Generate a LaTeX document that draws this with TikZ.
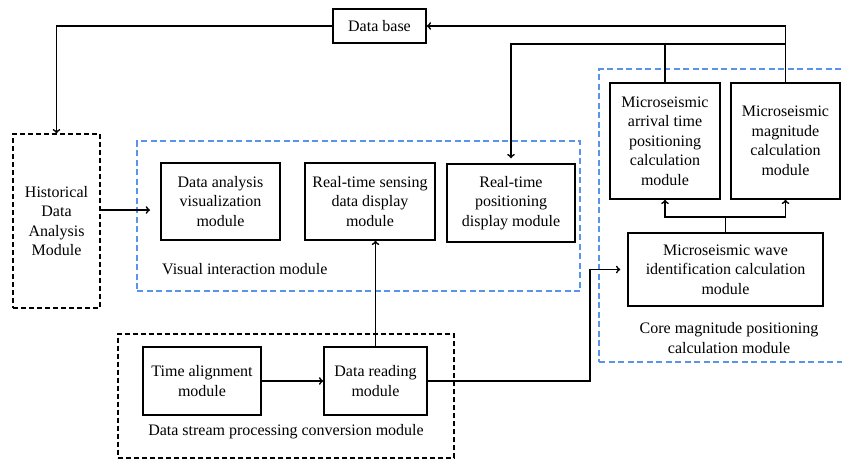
\documentclass[tikz,border=0pt]{standalone}
\usepackage{fontspec}
\setmainfont{Liberation Serif}
\usepackage{xcolor}
\usetikzlibrary{arrows,shapes}
\definecolor{frameblue}{RGB}{88,148,232}

\begin{document}
\begin{tikzpicture}[x=1pt,y=-1pt,
	every node/.style={font=\fontsize{16}{19.5}\selectfont, align=center, inner sep=0pt},
	modbox/.style={draw=black, line width=1.5pt, fill=white},
	grpbox/.style={draw=black, line width=1.3pt, dash pattern=on 5pt off 3pt},
	bluebox/.style={draw=frameblue, line width=1.3pt, dash pattern=on 6pt off 3.5pt},
	connline/.style={draw=black, line width=1.7pt, fill=none}]
	\useasboundingbox (0, 0) rectangle (842, 461);

	\node [bluebox, minimum width=443, minimum height=150] (visframe) at (358.5, 216) {};
	\node [bluebox, minimum width=250, minimum height=293] (coreframe) at (724, 215.5) {};
	\node [grpbox, minimum width=336, minimum height=124] (dsframe) at (286, 396) {};

	\node [modbox, minimum width=93, minimum height=34] (db) at (379.5, 26) {Data base};
	\node [grpbox, minimum width=87, minimum height=174] (hist) at (56.5, 221) {Historical\\Data\\Analysis\\Module};

	\node [modbox, minimum width=119, minimum height=77] (dav) at (220.5, 201.5) {Data analysis\\visualization\\module};
	\node [modbox, minimum width=130, minimum height=77] (rsd) at (370, 201.5) {Real-time sensing\\data display\\module};
	\node [modbox, minimum width=128, minimum height=78] (rpd) at (511, 203) {Real-time\\positioning\\display module};
	\node [anchor=west] (vislabel) at (162, 269) {Visual interaction module};

	\node [modbox, minimum width=110, minimum height=116] (mat) at (665, 141) {Microseismic\\arrival time\\positioning\\calculation\\module};
	\node [modbox, minimum width=109, minimum height=116] (mmc) at (785.5, 141) {Microseismic\\magnitude\\calculation\\module};
	\node [modbox, minimum width=195, minimum height=73] (mwi) at (725.5, 269.5) {Microseismic wave\\identification calculation\\module};
	\node (corelabel) at (729, 338) {Core magnitude positioning\\calculation module};

	\node [modbox, minimum width=118, minimum height=68] (tal) at (202, 381) {Time alignment\\module};
	\node [modbox, minimum width=103, minimum height=68] (drd) at (375.5, 381) {Data reading\\module};
	\node (dslabel) at (286, 432) {Data stream processing conversion module};

	\coordinate (hin) at (150, 210);
	\coordinate (bus) at (785.5, 44);
	\coordinate (fork) at (725.5, 217);
	\coordinate (bend) at (590, 300);

	\draw [connline, ->] (db.west) -| (hist.north);
	\draw [connline, ->] (hist.east |- hin) to (hin);
	\draw [connline, ->] (mmc.north) |- (db.east);
	\draw [connline] (mat.north) to (mat.north |- bus);
	\draw [connline, ->, shorten >=5pt] (bus) -| (rpd.north);

	\draw [connline] (mwi.north) to (fork);
	\draw [connline, ->] (fork) -| (mat.south);
	\draw [connline, ->] (fork) -| (mmc.south);

	\draw [connline, ->] (tal.east) to (drd.west);
	\draw [connline, ->] (drd.north) to (drd.north |- rsd.south);
	\draw [connline, ->, shorten >=7pt] (drd.east) -| (bend) |- (mwi.west);
\end{tikzpicture}
\end{document}
